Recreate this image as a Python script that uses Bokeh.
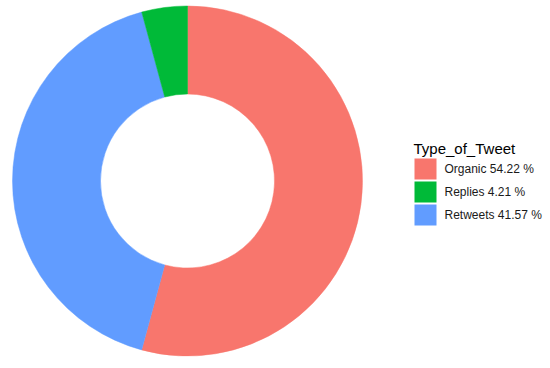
import numpy as np
from bokeh.plotting import figure
from bokeh.models import ColumnDataSource, Range1d
from bokeh.core.properties import value
from bokeh.embed import file_html
from bokeh.resources import INLINE

# Data
categories = ["Organic", "Replies", "Retweets"]
percentages = [54.22, 4.21, 41.57]
colors = ["#F8766D", "#00BA38", "#619CFF"]
legend_title = "Type_of_Tweet"
# drawing order clockwise from 12 o'clock
draw_order = ["Organic", "Retweets", "Replies"]

W, H = 550, 368
p = figure(width=W, height=H, output_backend="svg", toolbar_location=None,
           x_range=Range1d(0, W), y_range=Range1d(0, H), min_border=0,
           match_aspect=False)
p.axis.visible = False
p.grid.visible = False
p.outline_line_color = None
p.background_fill_color = "white"
p.border_fill_color = "white"

# donut geometry (pixel units)
cx, cy = 187, H - 180.5
r_out, r_in = 175, 87

starts, ends, cols = [], [], []
ang = np.pi / 2
for name in draw_order:
    i = categories.index(name)
    sweep = percentages[i] / 100.0 * 2 * np.pi
    starts.append(ang)
    ends.append(ang - sweep)
    cols.append(colors[i])
    ang -= sweep

src = ColumnDataSource(dict(x=[cx] * 3, y=[cy] * 3, start=starts, end=ends, color=cols))
p.annular_wedge(x="x", y="y", inner_radius=r_in, outer_radius=r_out,
                start_angle="start", end_angle="end", direction="clock",
                fill_color="color", line_color="color", line_width=0.5, source=src)

# legend
lx = 413
p.text(x=[lx], y=[H - 148], text=[legend_title], text_font=value("Liberation Sans"),
       text_font_size="15px", text_color="#000000", text_baseline="alphabetic")
box_y = [H - 168.5, H - 191.5, H - 214.5]
labels = [f"{c} {v:.2f} %" for c, v in zip(categories, percentages)]
p.rect(x=[425] * 3, y=box_y, width=22, height=21, fill_color=colors, line_color=None)
p.text(x=[444] * 3, y=box_y, text=labels, text_font=value("Liberation Sans"),
       text_font_size="12px", text_color="#1a1a1a", text_baseline="middle")

open("out.html", "w").write(file_html(p, INLINE))
